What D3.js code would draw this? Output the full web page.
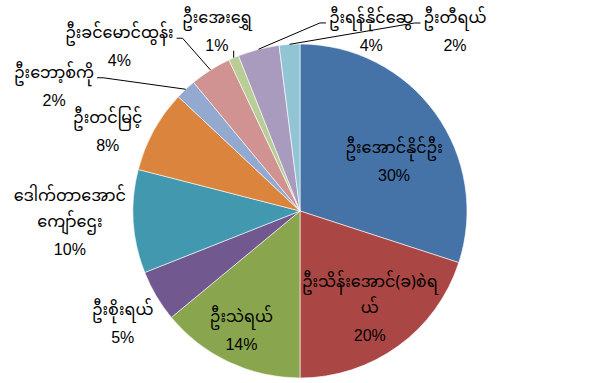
<!DOCTYPE html>
<html>
<head>
<meta charset="utf-8">
<script src="https://cdn.jsdelivr.net/npm/d3@7"></script>
<style>
  body { margin: 0; background: #fff; }
  text { font-family: "Noto Sans Myanmar", "Padauk", "Myanmar Text", "Liberation Sans", sans-serif; fill: #000; font-size: 16px; }
  .pct { font-family: "Liberation Sans", Arial, sans-serif; font-size: 16px; }
</style>
</head>
<body>
<div id="chart"></div>
<script>
// candidates, clockwise from 12 o'clock
const names = [
  "ဦးအောင်နိုင်ဦး",
  "ဦးသိန်းအောင်(ခ)စဲရ\nယ်",
  "ဦးသဲရယ်",
  "ဦးစိုးရယ်",
  "ဒေါက်တာအောင်\nကျော်ဌေး",
  "ဦးတင်မြင့်",
  "ဦးဘော့စ်ကို",
  "ဦးခင်မောင်ထွန်း",
  "ဦးအေးရွှေ",
  "ဦးရန်နိုင်ဆွေ",
  "ဦးတီရယ်"
]
const values = [30, 20, 14, 5, 10, 8, 2, 4, 1, 4, 2]
const colors = ["#4572A7", "#AA4643", "#89A54E", "#71588F", "#4198AF", "#DB843D",
                "#93A9CF", "#D19392", "#B9CD96", "#A99BBD", "#92C5D4"]

// label placement: radius factor, angle nudge (deg), leader line side
const labelK  = [0.635, 0.72, 0.80, 1.26, 1.38, 1.245, 1.65, 1.46, 1.182, 1.154, 1.418]
const labelDA = [8.5, 0.5, 0.8, -2, 0.6, -6.4, -20, -15.4, -1.5, 36.1, 44.5]
const leader  = [null, null, null, null, null, null, "right", "right", "below", "left", "left"]

const width = 591, height = 383
const cx = 300, cy = 211, r = 167
const nameGap = 26, pctGap = 26

const svg = d3.select('#chart').append('svg')
  .attr('width', width).attr('height', height)

const g = svg.append('g').attr('transform', `translate(${cx},${cy})`)

const pie = d3.pie().sort(null).value(d => d)
const arcs = pie(values)
const arc = d3.arc().innerRadius(0).outerRadius(r)

g.selectAll('path')
  .data(arcs)
  .enter()
  .append('path')
  .attr('d', arc)
  .attr('fill', (d, i) => colors[i])
  .attr('stroke', '#fff')
  .attr('stroke-width', 0.6)

const polar = (a, rad) => [Math.sin(a) * rad, -Math.cos(a) * rad]

const labels = g.append('g')
const lines = g.append('g')

arcs.forEach((d, i) => {
  const mid = (d.startAngle + d.endAngle) / 2
  const [lx, ly] = polar(mid + labelDA[i] * Math.PI / 180, r * labelK[i])
  const rows = names[i].split('\n').concat([values[i] + '%'])
  // vertical offsets of each row
  const offs = rows.map((row, j) => j === 0 ? 0 : (j === rows.length - 1 ? pctGap : nameGap))
  const ys = offs.map((o, j) => d3.sum(offs.slice(0, j + 1)))
  const top = ly - ys[ys.length - 1] / 2

  const text = labels.append('text')
    .attr('text-anchor', 'middle')
    .attr('dominant-baseline', 'central')

  const spans = rows.map((row, j) => text.append('tspan')
    .attr('class', j === rows.length - 1 ? 'pct' : 'name')
    .attr('x', lx)
    .attr('y', top + ys[j])
    .text(row))

  if (leader[i]) {
    const [ex, ey] = polar(mid, r)
    const w = spans[0].node().getComputedTextLength()
    let pts
    if (leader[i] === 'right') {
      const sx = lx + w / 2 + 3
      pts = [[sx, top + 4], [sx + 6, top + 4], [ex, ey]]
    } else if (leader[i] === 'left') {
      const sx = lx - w / 2 - 3
      pts = [[sx, top + 4], [sx - 6, top + 4], [ex, ey]]
    } else {
      pts = [[ex, ey - 7], [ex, ey]]
    }
    lines.append('path')
      .attr('d', d3.line()(pts))
      .attr('fill', 'none')
      .attr('stroke', '#000')
      .attr('stroke-width', 1)
  }
})
</script>
</body>
</html>
